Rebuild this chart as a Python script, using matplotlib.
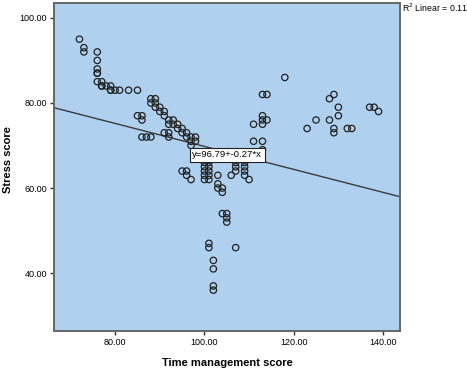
"""
plot.py — SPSS-style scatter of stress score vs time management score,
with the linear fit line and its equation label.
"""
import matplotlib
matplotlib.use("Agg")
import matplotlib.pyplot as plt
import numpy as np

# points (time management score, stress score)
time_mgmt = [
    72, 73, 73, 76, 76, 76, 76, 76, 76, 77, 77, 77, 78, 79, 79, 79, 80, 81, 83, 85,
    85, 86, 86, 86, 87, 88,
    88, 89, 88, 89, 89, 90, 90, 91, 91,
    92, 93, 92, 93, 94, 94, 95, 95, 96, 96,
    91, 92, 92,
    97, 98, 97, 98, 97,
    100, 100, 100, 100, 100, 101, 101, 101, 101, 101,
    95, 96, 96, 97, 103,
    103, 103, 104, 104,
    104, 105, 105, 105,
    101, 101, 107, 102, 102, 102, 102,
    106, 107, 107, 107, 109, 109, 109, 109, 110,
    111, 113, 113,
    118, 113, 114, 113, 113, 113, 114, 111, 125, 123,
    129, 128, 130, 130, 128, 129, 129, 132, 133, 137, 138, 139,
]
stress = [
    95, 93, 92, 92, 90, 88, 87, 87, 85, 85, 84, 84, 84, 84, 83, 83, 83, 83, 83, 83,
    77, 77, 76, 72, 72, 72,
    81, 81, 80, 80, 79, 79, 78, 78, 77,
    76, 76, 75, 75, 75, 74, 74, 73, 73, 72,
    73, 73, 72,
    72, 72, 71, 71, 70,
    66, 65, 64, 63, 62, 66, 65, 64, 63, 62,
    64, 64, 63, 62, 63,
    61, 60, 60, 59,
    54, 54, 53, 52,
    47, 46, 46, 43, 41, 37, 36,
    63, 66, 65, 64, 66, 65, 64, 63, 62,
    71, 71, 69,
    86, 82, 82, 77, 76, 75, 76, 75, 76, 74,
    82, 81, 79, 77, 76, 74, 73, 74, 74, 79, 79, 78,
]

# fit reported on the chart
INTERCEPT = 96.79
SLOPE = -0.27
R2 = 0.11

x_ticks = [80, 100, 120, 140]
y_ticks = [40, 60, 80, 100]

plt.rcParams.update({
    "font.family": ["Liberation Sans", "DejaVu Sans"],
    "font.size": 6.5,
})

fig = plt.figure(figsize=(4.67, 3.70), dpi=100)
ax = fig.add_axes([0.1156, 0.1054, 0.7409, 0.8865])
ax.set_facecolor("#afd0ee")

ax.set_xlim(66.3, 143.8)
ax.set_ylim(26.4, 103.5)

xs = np.array(ax.get_xlim())
ax.plot(xs, INTERCEPT + SLOPE * xs, color="#3c3c3c", lw=1.0, zorder=2)

ax.scatter(time_mgmt, stress, s=21, facecolors="none", edgecolors="#222222",
           linewidths=0.9, zorder=3)

ax.text(97.3, 67.8, f"y={INTERCEPT:.2f}+{SLOPE:.2f}*x", fontsize=6.8,
        ha="left", va="center", zorder=4,
        bbox=dict(boxstyle="square,pad=0.25", fc="white", ec="#222222", lw=0.8))

fig.text(0.861, 0.978, f"R$^2$ Linear = {R2:.2f}", fontsize=6.3, ha="left", va="center")

ax.set_xticks(x_ticks)
ax.set_xticklabels([f"{v:.2f}" for v in x_ticks])
ax.set_yticks(y_ticks)
ax.set_yticklabels([f"{v:.2f}" for v in y_ticks])
ax.tick_params(direction="out", length=3, width=1, color="#333333", pad=2, labelsize=6.5)

for sp in ax.spines.values():
    sp.set_color("#666666")
    sp.set_linewidth(1.4)

ax.set_xlabel("Time management score", fontsize=8, fontweight="bold", labelpad=8)
fig.text(8 / 467, 0.57, "Stress score", fontsize=8, fontweight="bold",
         rotation=90, ha="center", va="center")

fig.savefig("out.png", dpi=100)
